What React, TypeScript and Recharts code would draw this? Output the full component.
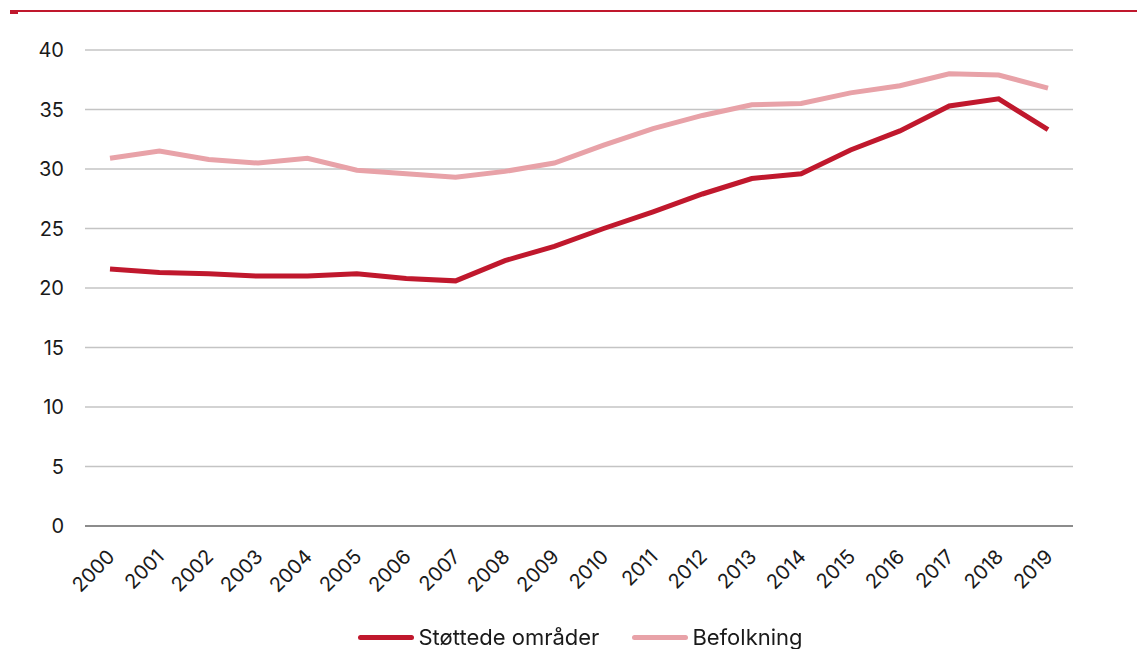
import React from "react";
import { LineChart, Line, XAxis, YAxis, CartesianGrid, Legend } from "recharts";

const YEARS = [
  "2000", "2001", "2002", "2003", "2004", "2005", "2006", "2007", "2008", "2009",
  "2010", "2011", "2012", "2013", "2014", "2015", "2016", "2017", "2018", "2019",
];

const STOTTEDE = [
  21.6, 21.3, 21.2, 21.0, 21.0, 21.2, 20.8, 20.6, 22.3, 23.5,
  25.0, 26.4, 27.9, 29.2, 29.6, 31.6, 33.2, 35.3, 35.9, 33.3,
];

const BEFOLKNING = [
  30.9, 31.5, 30.8, 30.5, 30.9, 29.9, 29.6, 29.3, 29.8, 30.5,
  32.0, 33.4, 34.5, 35.4, 35.5, 36.4, 37.0, 38.0, 37.9, 36.8,
];

const Y_TICKS = [0, 5, 10, 15, 20, 25, 30, 35, 40];

const SERIES = [
  { key: "stottede", name: "Støttede områder", color: "#c0182d" },
  { key: "befolkning", name: "Befolkning", color: "#e8a2a8" },
];

const data = YEARS.map((year, i) => ({
  year,
  stottede: STOTTEDE[i],
  befolkning: BEFOLKNING[i],
}));

const FONT = "Inter, 'Noto Sans', sans-serif";

function YearTick({ x, y, payload }: { x?: number; y?: number; payload?: { value: string } }) {
  return (
    <g transform={`translate(${(x ?? 0) + 1},${(y ?? 0) + 19})`}>
      <text
        transform="rotate(-45)"
        textAnchor="end"
        dominantBaseline="central"
        fontSize={20}
        fontFamily={FONT}
        fill="#1a1a1a"
      >
        {payload?.value}
      </text>
    </g>
  );
}

// legend is centred on the plot area, not the whole chart
function LegendContent() {
  return (
    <div
      style={{
        display: "flex",
        justifyContent: "center",
        gap: 33,
        paddingLeft: 88,
        fontFamily: FONT,
        fontSize: 22,
        lineHeight: "24px",
        color: "#1a1a1a",
      }}
    >
      {SERIES.map((s) => (
        <div key={s.key} style={{ display: "flex", alignItems: "center", gap: 4 }}>
          <span
            style={{
              display: "inline-block",
              width: 56,
              height: 5,
              borderRadius: 3,
              backgroundColor: s.color,
            }}
          />
          {s.name}
        </div>
      ))}
    </div>
  );
}

export default function App() {
  return (
    <div
      style={{
        position: "fixed",
        left: 0,
        top: 0,
        width: 1137,
        height: 649,
        background: "#fff",
        fontFamily: FONT,
      }}
    >
      <div style={{ position: "absolute", left: 10, top: 10, width: 1127, height: 2, background: "#c0182d" }} />
      <div style={{ position: "absolute", left: 10, top: 10, width: 8, height: 4, background: "#c0182d" }} />
      <LineChart
        width={1137}
        height={649}
        data={data}
        margin={{ top: 50, right: 64, left: 0, bottom: 0 }}
      >
        <CartesianGrid vertical={false} stroke="#c4c4c4" strokeWidth={1.5} />
        <XAxis
          dataKey="year"
          tick={<YearTick />}
          tickLine={false}
          axisLine={{ stroke: "#8c8c8c", strokeWidth: 2 }}
          interval={0}
          padding={{ left: 25, right: 25 }}
          height={99}
        />
        <YAxis
          domain={[0, 40]}
          ticks={Y_TICKS}
          tickLine={false}
          axisLine={false}
          tickSize={0}
          tickMargin={21}
          width={85}
          tick={{ fontSize: 20, fontFamily: FONT, fill: "#1a1a1a" }}
        />
        <Legend verticalAlign="bottom" content={<LegendContent />} />
        {SERIES.map((s) => (
          <Line
            key={s.key}
            type="linear"
            dataKey={s.key}
            name={s.name}
            stroke={s.color}
            strokeWidth={5}
            dot={false}
            activeDot={false}
            isAnimationActive={false}
          />
        ))}
      </LineChart>
    </div>
  );
}
